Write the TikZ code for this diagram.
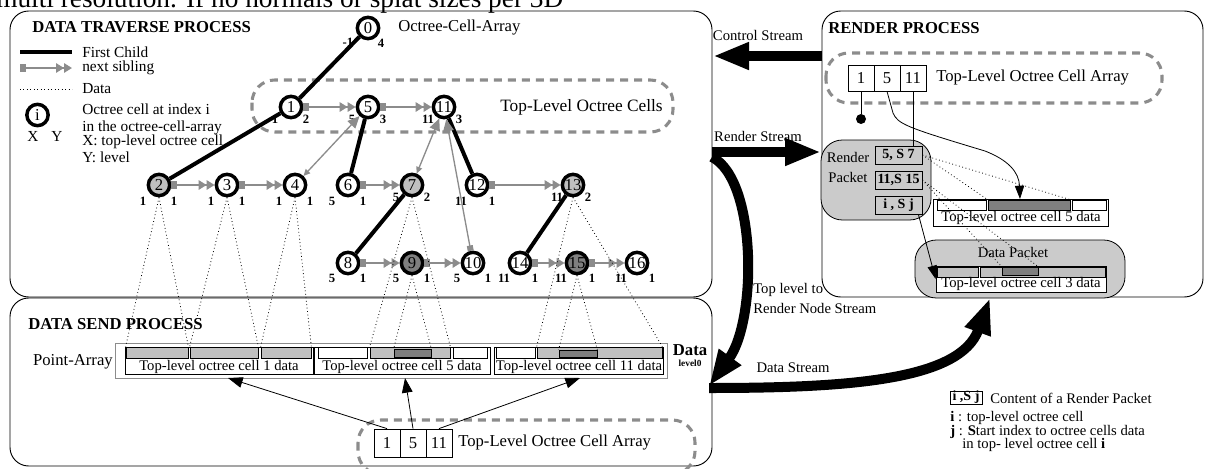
\documentclass[tikz,border=0pt]{standalone}
\usepackage{fontspec}
\setmainfont{Liberation Serif}
\usetikzlibrary{arrows.meta,fit}
\newcommand\myfs[1]{\fontsize{#1}{#1}\selectfont}
\newcommand\celllab[4][15]{\node[lab] at ([shift={(-16,#1)}]#2) {#3};\node[lab] at ([shift={(15,#1)}]#2) {#4};}
\definecolor{lg}{HTML}{C0C0C0}
\definecolor{dg}{HTML}{7F7F7F}
\definecolor{ag}{HTML}{8C8C8C}
\definecolor{pk}{HTML}{CBCBCB}
\begin{document}
\begin{tikzpicture}[x=0.75pt,y=-0.75pt,
 panel/.style={draw,line width=0.7pt,rounded corners=14pt},
 dreg/.style={draw=ag,line width=2.3pt,dash pattern=on 6pt off 4.5pt,rounded corners=17pt},
 cell/.style={circle,draw,line width=2.6pt,minimum size=16pt,inner sep=0pt,fill=white,font=\myfs{12.5}},
 lab/.style={font=\bfseries\myfs{9.5},inner sep=0pt},
 txt/.style={font=\myfs{11},inner sep=0pt},
 legt/.style={font=\myfs{11.5},inner sep=0pt,anchor=west},
 big/.style={font=\myfs{12.5},inner sep=0pt},
 ttl/.style={font=\bfseries\myfs{12.5},inner sep=0pt,anchor=base west},
 child/.style={line width=3pt},
 sib/.style={draw=ag,line width=2.2pt,{Square[length=4.5pt,width=5.5pt]}-{Triangle[length=6pt,width=7pt]Triangle[length=6pt,width=7pt]}},
 par/.style={draw=ag,line width=1pt,{Triangle[length=5pt,width=4.5pt]}-{Triangle[length=9pt,width=8pt]}},
 parsq/.style={draw=ag,line width=1pt,{Square[length=4pt,width=4.5pt]}-{Triangle[length=9pt,width=8pt]}},
 datal/.style={dotted,line width=0.6pt},
 bar/.style={draw,line width=0.5pt,inner sep=0pt},
 box/.style={draw,line width=0.6pt,inner sep=0pt,fill=white},
 sarrow/.style={line width=0.6pt,-{Triangle[length=11pt,width=8pt]}},
 thinar/.style={line width=0.6pt,-{Triangle[length=10pt,width=7pt]}},
 stream/.style={line width=7.5pt,-{Triangle[length=27pt,width=19pt]}},
 pkt/.style={draw,fill=pk,line width=0.6pt,rounded corners=16pt,inner sep=0pt},
 rlt/.style={font=\myfs{11},inner sep=0pt,anchor=west},
]
\useasboundingbox (0,0) rectangle (1216,468);
\clip (0,0) rectangle (1216,468);

% cut-off page text
\node[anchor=base west,inner sep=0pt,font=\myfs{20.5}] (cut) at (-4,7) {multi resolution. If no normals or splat sizes per 3D};

% panels
\draw[panel] (10,11) rectangle (712,297);
\draw[panel] (10,298) rectangle (712,466);
\draw[panel] (822,11) rectangle (1203,297);
\node[ttl] (t1) at (32,32) {DATA TRAVERSE PROCESS};
\node[ttl] (t2) at (28,329) {DATA SEND PROCESS};
\node[ttl] (t3) at (828,33) {RENDER PROCESS};

% legend
\coordinate (lA1) at (20,52); \coordinate (lA2) at (72,52);
\draw[child] (lA1) -- (lA2);
\coordinate (lB1) at (20,68); \coordinate (lB2) at (72,68);
\draw[sib] (lB1) -- (lB2);
\coordinate (lC1) at (20,89); \coordinate (lC2) at (72,89);
\draw[datal] (lC1) -- (lC2);
\node[legt] (lt1) at (82,52) {First Child};
\node[legt] (lt2) at (82,68) {next sibling};
\node[legt] (lt3) at (82,89) {Data};
\node[cell] (li) at (37.5,115) {i};
\node[font=\myfs{11.5},inner sep=0pt] (lx) at (33,136) {X};
\node[font=\myfs{11.5},inner sep=0pt] (ly) at (57,136) {Y};
\node[legt] (lt4) at (82,109) {Octree cell at index i};
\node[legt] (lt5) at (82,128) {in the octree-cell-array};
\node[legt] (lt6) at (82,142) {X: top-level octree cell};
\node[legt] (lt7) at (82,157) {Y: level};

% tree
\draw[dreg] (252,80) rectangle (673,132);
\node[font=\myfs{13},inner sep=0pt,anchor=west] (tlc) at (500,107) {Top-Level Octree Cells};
\node[big,anchor=west] (oca) at (398,28) {Octree-Cell-Array};

\node[cell] (n0) at (368,28) {0};
\node[cell] (n1) at (291,107) {1};
\node[cell] (n5) at (368,107) {5};
\node[cell] (n11) at (444,107) {11};
\node[cell,fill=lg] (n2) at (159,185) {2};
\node[cell] (n3) at (227,185) {3};
\node[cell] (n4) at (295,185) {4};
\node[cell] (n6) at (348,185) {6};
\node[cell,fill=lg] (n7) at (412,185) {7};
\node[cell] (n12) at (477,185) {12};
\node[cell,fill=lg] (n13) at (573,185) {13};
\node[cell] (n8) at (348,263) {8};
\node[cell,fill=dg] (n9) at (412,263) {9};
\node[cell] (n10) at (473,263) {10};
\node[cell] (n14) at (520,263) {14};
\node[cell,fill=dg] (n15) at (577,263) {15};
\node[cell] (n16) at (637,263) {16};

\node[lab] at (348,42) {-1};
\node[lab] at (381,43) {4};
\celllab[12]{n1}{1}{2}
\celllab[12]{n5}{5}{3}
\celllab[12]{n11}{11}{3}
\celllab[16]{n2}{1}{1}
\celllab[16]{n3}{1}{1}
\celllab[16]{n4}{1}{1}
\celllab[16]{n6}{5}{1}
\celllab[12]{n7}{5}{2}
\celllab[16]{n12}{11}{1}
\celllab[12]{n13}{11}{2}
\celllab{n8}{5}{1}
\celllab{n9}{5}{1}
\celllab{n10}{5}{1}
\celllab{n14}{11}{1}
\celllab{n15}{11}{1}
\celllab{n16}{11}{1}

\draw[child] (n0) -- (n1);
\draw[child] (n1) -- (n2);
\draw[child] (n5) -- (n6);
\draw[child] (n11) -- (n12);
\draw[child] (n7) -- (n8);
\draw[child] (n13) -- (n14);

\draw[sib] (n1) -- (n5);
\draw[sib] (n5) -- (n11);
\draw[sib] (n2) -- (n3);
\draw[sib] (n3) -- (n4);
\draw[sib] (n6) -- (n7);
\draw[sib] (n12) -- (n13);
\draw[sib] (n8) -- (n9);
\draw[sib] (n9) -- (n10);
\draw[sib] (n14) -- (n15);
\draw[sib] (n15) -- (n16);

\draw[par] (n4) -- (n5);
\draw[par] (n7) -- (n11);
\draw[parsq] (n10) -- (n11);

% point array
\node[fit={(115,343) (667,378)},inner sep=0pt,draw=ag,line width=0.7pt] (pa) {};
\node[box,fit={(125,347) (313,374)}] (ba) {};
\node[box,fit={(314,347) (490,374)}] (bb) {};
\node[box,fit={(494,347) (663,374)}] (bc) {};
\node[bar,fill=lg,fit={(126,347) (188,358)}] (a1) {};
\node[bar,fill=lg,fit={(190,347) (258,358)}] (a2) {};
\node[bar,fill=lg,fit={(261,347) (311,358)}] (a3) {};
\node[bar,fill=white,fit={(318,347) (367,358)}] (b1) {};
\node[bar,fill=lg,fit={(370,347) (450,358)}] (b2) {};
\node[bar,fill=dg,fit={(394,349) (431,357)}] (b2d) {};
\node[bar,fill=white,fit={(453,347) (487,358)}] (b3) {};
\node[bar,fill=white,fit={(496,347) (535,358)}] (c1) {};
\node[bar,fill=lg,fit={(537,347) (662,358)}] (c2) {};
\node[bar,fill=dg,fit={(559,350) (597,357)}] (c2d) {};
\node[txt] (bat) at (219,367) {Top-level octree cell 1 data};
\node[txt] (bbt) at (402,367) {Top-level octree cell 5 data};
\node[txt] (bct) at (579,367) {Top-level octree cell 11 data};
\node[big,anchor=east] (pat) at (113,362) {Point-Array};
\node[font=\bfseries\myfs{12.5},inner sep=0pt] (dat) at (690,350) {Data};
\node[font=\bfseries\myfs{7},inner sep=0pt] (lv0) at (690,363) {level0};

% data lines
\draw[datal] (n2.south) -- (a1.north west);
\draw[datal] (n2.south) -- (a1.north east);
\draw[datal] (n3.south) -- (a2.north west);
\draw[datal] (n3.south) -- (a2.north east);
\draw[datal] (n4.south) -- (a3.north west);
\draw[datal] (n4.south) -- (a3.north east);
\draw[datal] (n7.south) -- (b2.north west);
\draw[datal] (n7.south) -- (b2.north east);
\draw[datal] (n9.south) -- (b2d.north west);
\draw[datal] (n9.south) -- (b2d.north east);
\draw[datal] (n13.south) -- (c2.north west);
\draw[datal] (n13.south) -- (c2.north east);
\draw[datal] (n15.south) -- (c2d.north west);
\draw[datal] (n15.south) -- (c2d.north east);

% send top-level array
\draw[dreg] (358,420) rectangle (695,474);
\node[box,big,minimum width=19.5pt,minimum height=21pt] (d1) at (387,443) {1};
\node[box,big,minimum width=19.5pt,minimum height=21pt] (d5) at (413,443) {5};
\node[box,big,minimum width=19.5pt,minimum height=21pt] (d11) at (439,443) {11};
\node[big,anchor=west] (dta) at (458,443) {Top-Level Octree Cell Array};
\coordinate (ta) at (228,378);
\coordinate (tb) at (405,378);
\coordinate (tc) at (580,378);
\draw[sarrow] (d1.north) -- (ta);
\draw[sarrow] (d5.north) -- (tb);
\draw[sarrow] (d11.north) -- (tc);

% render process
\draw[dreg] (826,53) rectangle (1162,103);
\node[box,big,minimum width=19.5pt,minimum height=19.5pt] (r1) at (861,78) {1};
\node[box,big,minimum width=19.5pt,minimum height=19.5pt] (r5) at (887,78) {5};
\node[box,big,minimum width=19.5pt,minimum height=19.5pt] (r11) at (913,78) {11};
\node[big,anchor=west] (rta) at (936,78) {Top-Level Octree Cell Array};
\node[circle,fill,inner sep=0pt,minimum size=7.5pt] (dot) at (861,119) {};
\draw[line width=0.6pt] (r1.south) -- (dot);

\node[pkt,fit={(821,140) (931,220)}] (rp) {};
\node[txt] (rpt1) at (848,157) {Render};
\node[txt] (rpt2) at (848,177) {Packet};
\node[box,fill=pk,minimum width=35.25pt,minimum height=13.5pt,font=\bfseries\myfs{10.5}] (p1) at (898.5,155) {5, S 7};
\node[box,fill=pk,minimum width=35.25pt,minimum height=13.5pt,font=\bfseries\myfs{10.5}] (p2) at (898.5,180) {11,S 15};
\node[box,fill=pk,minimum width=35.25pt,minimum height=13.5pt,font=\bfseries\myfs{10.5}] (p3) at (898.5,205) {i , S j};
\draw[line width=0.6pt] (r11.south) -- (r11.south |- p1.north);

\node[box,fit={(933,199) (1108,226)}] (rc5) {};
\node[bar,fill=white,fit={(937,200) (986,210)}] (rw1) {};
\node[bar,fill=dg,fit={(988,200) (1070,210)}] (rcd) {};
\node[bar,fill=white,fit={(1072,200) (1106,210)}] (rw2) {};
\node[txt] (rc5t) at (1021,218) {Top-level octree cell 5 data};
\coordinate (r5tip) at (1020,199);
\draw[thinar] (r5.south) -- (893,113) .. controls (898,124) and (905,127) .. (985,151) .. controls (1008,160) and (1019,172) .. (r5tip);

\node[pkt,fit={(915,240) (1125,298)}] (dpk) {};
\node[txt] (dpkt) at (1013,252) {Data Packet};
\node[box,fit={(936,266) (1106,292)}] (dp) {};
\node[bar,fill=lg,fit={(937,267) (978,277)}] (dq1) {};
\node[bar,fill=lg,fit={(980,267) (1105,277)}] (dq2) {};
\node[bar,fill=dg,fit={(1002,267) (1038,275)}] (dpd) {};
\node[txt] (dpt) at (1021,284) {Top-level octree cell 3 data};

\draw[datal] (p1.east) -- (rcd.north west);
\draw[datal] (p1.east) -- (rcd.north east);
\draw[datal] (p2.east) -- (dpd.north west);
\draw[datal] (p2.east) -- (dpd.north east);
\draw[thinar] ([xshift=-3pt]p3.south east) -- (dp.west);

% streams
\coordinate (cs0) at (822,56); \coordinate (cs1) at (713,56);
\draw[stream] (cs0) -- (cs1);
\node[txt] (cst) at (758,35) {Control Stream};
\coordinate (rs0) at (712,152); \coordinate (rs1) at (821,152);
\draw[stream] (rs0) -- (rs1);
\node[txt] (rst) at (758,136) {Render Stream};
\coordinate (tl0) at (712,157); \coordinate (tl1) at (709,386);
\draw[stream] (tl0) .. controls (757,180) and (757,320) .. (tl1);
\node[txt,anchor=west] (tlt1) at (753,290) {Top level to};
\node[txt,anchor=west] (tlt2) at (753,308) {Render Node Stream};
\coordinate (ds0) at (709,388); \coordinate (ds1) at (990,298);
\draw[stream] (ds0) .. controls (850,388) and (960,380) .. (ds1);
\node[txt] (dst) at (793,368) {Data Stream};

% bottom-right legend
\node[box,minimum width=24pt,minimum height=9.75pt,font=\bfseries\myfs{10.5}] (lgb) at (966,397.5) {i ,S j};
\node[rlt] (lgt1) at (990,398) {Content of a Render Packet};
\node[rlt] (lgt2) at (950,418) {\textbf{i} : top-level octree cell};
\node[rlt] (lgt3) at (950,432) {\textbf{j} : \textbf{S}tart index to octree cells data};
\node[rlt] (lgt4) at (962,445) {in top- level octree cell \textbf{i}};
\end{tikzpicture}
\end{document}
